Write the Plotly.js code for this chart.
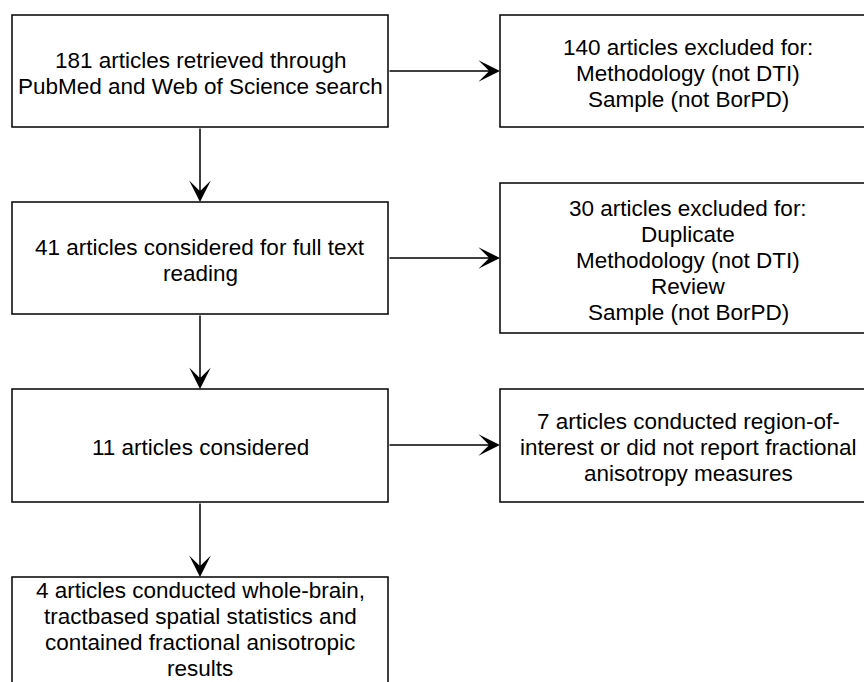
<!DOCTYPE html>
<html>
<head>
<meta charset="utf-8">
<script src="https://cdn.plot.ly/plotly-3.0.1.min.js"></script>
<style>html,body{margin:0;padding:0;background:#fff;}#chart{width:864px;height:682px;}</style>
</head>
<body>
<div id="chart"></div>
<script>
// Flowchart content
const stepLabels = [
  ["181 articles retrieved through", "PubMed and Web of Science search"],
  ["41 articles considered for full text", "reading"],
  ["11 articles considered"],
  ["4 articles conducted whole-brain,", "tractbased spatial statistics and", "contained fractional anisotropic", "results"]
];
const exclusionLabels = [
  ["140 articles excluded for:", "Methodology (not DTI)", "Sample (not BorPD)"],
  ["30 articles excluded for:", "Duplicate", "Methodology (not DTI)", "Review", "Sample (not BorPD)"],
  ["7 articles conducted region-of-", "interest or did not report fractional", "anisotropy measures"]
];

// Layout geometry (pixels in a 864x682 frame)
const leftCol = {x0: 12, x1: 388};
const rightCol = {x0: 500, x1: 876};
const leftRows = [[15, 127], [202, 314], [389, 502], [577, 698]];
const rightRows = [[15, 127], [183, 333], [389, 502]];
const leftTextShift = [2, 2, 2, -8];
const rightTextShift = [2, 2, 2];
const connectorY = [71, 258, 445];
const lineStep = 26;

const shapes = [];
const annotations = [];
const font = {family: "Liberation Sans, Arial, sans-serif", size: 22.5, color: "#000"};

function addBox(x0, x1, y0, y1, lines, shift) {
  shapes.push({type: "rect", xref: "x", yref: "y", x0: x0, x1: x1, y0: y0, y1: y1,
    line: {color: "#000", width: 1.5}, fillcolor: "rgba(0,0,0,0)"});
  const cy = (y0 + y1) / 2 + shift;
  lines.forEach((t, i) => {
    annotations.push({xref: "x", yref: "y", x: (x0 + x1) / 2,
      y: cy + (i - (lines.length - 1) / 2) * lineStep,
      text: t, showarrow: false, font: font, align: "center",
      xanchor: "center", yanchor: "middle"});
  });
}
function addArrow(xt, yt, xh, yh) {
  annotations.push({xref: "x", yref: "y", axref: "x", ayref: "y",
    x: xh, y: yh, ax: xt, ay: yt, text: "", showarrow: true,
    arrowhead: 3, arrowsize: 2.4, arrowwidth: 1.5, arrowcolor: "#000", standoff: 0, startstandoff: 0});
}

stepLabels.forEach((lines, i) => addBox(leftCol.x0, leftCol.x1, leftRows[i][0], leftRows[i][1], lines, leftTextShift[i]));
exclusionLabels.forEach((lines, i) => addBox(rightCol.x0, rightCol.x1, rightRows[i][0], rightRows[i][1], lines, rightTextShift[i]));
const cx = (leftCol.x0 + leftCol.x1) / 2;
for (let i = 0; i < leftRows.length - 1; i++) addArrow(cx, leftRows[i][1], cx, leftRows[i + 1][0]);
connectorY.forEach(y => addArrow(leftCol.x1, y, rightCol.x0, y));

Plotly.newPlot("chart", [], {
  width: 864, height: 682,
  margin: {l: 0, r: 0, t: 0, b: 0},
  paper_bgcolor: "#fff", plot_bgcolor: "#fff",
  xaxis: {range: [0, 864], visible: false, fixedrange: true},
  yaxis: {range: [682, 0], visible: false, fixedrange: true},
  shapes: shapes, annotations: annotations, showlegend: false
}, {staticPlot: true, displayModeBar: false});
</script>
</body>
</html>
